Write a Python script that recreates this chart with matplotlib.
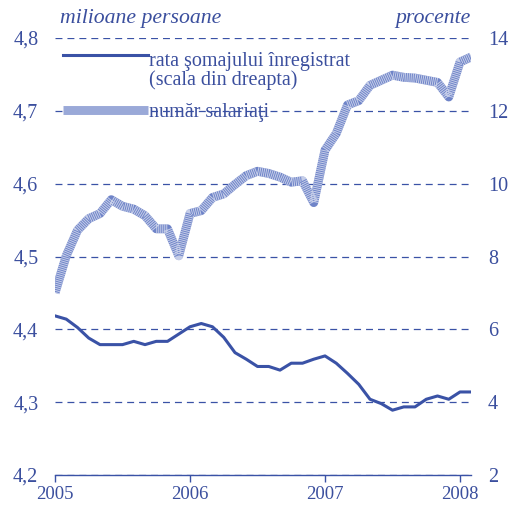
import matplotlib
matplotlib.use("Agg")
import matplotlib.pyplot as plt
from matplotlib.lines import Line2D
from matplotlib.legend_handler import HandlerTuple

# ---- data ----
years = ["2005", "2006", "2007", "2008"]
year_months = [0, 12, 24, 36]
months = list(range(38))  # Jan 2005 .. Feb 2008

unemployment = [6.37, 6.28, 6.05, 5.76, 5.58, 5.58, 5.58, 5.67, 5.58, 5.67,
                5.67, 5.87, 6.07, 6.16, 6.07, 5.78, 5.36, 5.18, 4.98, 4.98,
                4.88, 5.07, 5.07, 5.18, 5.27, 5.07, 4.79, 4.49, 4.08, 3.96,
                3.78, 3.87, 3.87, 4.08, 4.17, 4.08, 4.28, 4.28]

employees = [4.450, 4.501, 4.536, 4.552, 4.559, 4.578, 4.569, 4.565, 4.556, 4.538,
             4.538, 4.501, 4.559, 4.563, 4.581, 4.586, 4.599, 4.611, 4.617, 4.614,
             4.609, 4.602, 4.604, 4.574, 4.646, 4.669, 4.708, 4.714, 4.735, 4.742,
             4.749, 4.746, 4.745, 4.742, 4.739, 4.719, 4.767, 4.774]

left_ticks = [4.2, 4.3, 4.4, 4.5, 4.6, 4.7, 4.8]
left_labels = ["4,2", "4,3", "4,4", "4,5", "4,6", "4,7", "4,8"]
right_ticks = [2, 4, 6, 8, 10, 12, 14]

BLUE = "#3a52a6"
TXT = "#3b4f9e"
HATCH_BASE = "#6f84c8"
FS = 14.5

plt.rcParams["font.family"] = ["Liberation Serif", "DejaVu Serif"]
plt.rcParams["lines.scale_dashes"] = False

fig = plt.figure(figsize=(5.12, 5.07), dpi=100)
ax = fig.add_axes([55 / 512, 32 / 507, 416.25 / 512, 437 / 507])
ax2 = ax.twinx()

# employees (left axis) - thick textured line
LW_E = 6.4
TEX = (0.72, 0.72)
ax.plot(months, employees, color=HATCH_BASE, lw=LW_E, solid_capstyle="butt", zorder=3)
ax.plot(months, employees, color="white", lw=LW_E, alpha=0.6,
        dashes=TEX, dash_capstyle="butt", zorder=4)

# unemployment (right axis)
ax2.plot(months, unemployment, color=BLUE, lw=2.2, zorder=5)

ax.set_xlim(0, 37)
ax.set_ylim(4.2, 4.8)
ax2.set_ylim(2, 14)

ax.set_yticks(left_ticks)
ax.set_yticklabels(left_labels)
ax2.set_yticks(right_ticks)
ax.set_xticks(year_months)
ax.set_xticklabels(years)

ax.yaxis.grid(True, color=BLUE, lw=0.9, dashes=(5, 3.6))
ax.set_axisbelow(True)

for a in (ax, ax2):
    for s in ("top", "left", "right"):
        a.spines[s].set_visible(False)
    a.spines["bottom"].set_color(BLUE)
    a.spines["bottom"].set_linewidth(1.0)
    a.tick_params(axis="y", length=0, labelsize=FS, labelcolor=TXT, pad=12)
ax.tick_params(axis="x", length=5, width=1, color=BLUE, labelsize=13.5,
               labelcolor=TXT, pad=2.8)
ax2.spines["bottom"].set_visible(False)

fig.text(60 / 512, 1 - 18 / 507, "milioane persoane", style="italic",
         fontsize=FS + 1.2, color=TXT, ha="left", va="center")
fig.text(471 / 512, 1 - 18 / 507, "procente", style="italic",
         fontsize=FS + 1.2, color=TXT, ha="right", va="center")

h1 = Line2D([], [], color=BLUE, lw=2.2)
hb = Line2D([], [], color=HATCH_BASE, lw=LW_E, solid_capstyle="butt")
ho = Line2D([], [], color="white", lw=LW_E, alpha=0.6, dashes=TEX)
leg = ax2.legend([h1, (hb, ho)],
                 ["rata şomajului înregistrat\n(scala din dreapta)", "număr salariaţi"],
                 handler_map={tuple: HandlerTuple(ndivide=1)},
                 loc="upper left", bbox_to_anchor=(8 / 416.25, 0.968), frameon=False,
                 fontsize=FS, handlelength=4.2, handletextpad=0.05,
                 borderaxespad=0.0, borderpad=0.0, labelspacing=0.65, labelcolor=TXT)
for t in leg.get_texts():
    t.set_linespacing(0.95)
# align the line sample with the first text line
lh = leg.legend_handles[0]
lh.set_ydata([y + 0.77 * FS for y in lh.get_ydata()])

fig.savefig("out.png", dpi=100)
